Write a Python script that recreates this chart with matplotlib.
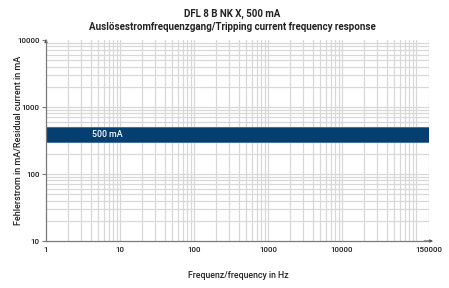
import matplotlib
matplotlib.use("Agg")
import matplotlib.pyplot as plt
import numpy as np

# Data
band_low = 300      # mA
band_high = 500     # mA
band_label = "500 mA"
x_min, x_max = 1, 150000
y_min, y_max = 10, 10000
x_ticks = [1, 10, 100, 1000, 10000, 150000]
x_ticklabels = ["1", "10", "100", "1000", "10000", "150000"]
y_ticks = [10, 100, 1000, 10000]
y_ticklabels = ["10", "100", "1000", "10000"]
title1 = "DFL 8 B NK X, 500 mA"
title2 = "Auslösestromfrequenzgang/Tripping current frequency response"
xlabel = "Frequenz/frequency in Hz"
ylabel = "Fehlerstrom in mA/Residual current in mA"

plt.rcParams['font.family'] = ['Roboto', 'DejaVu Sans']

fig = plt.figure(figsize=(4.49, 2.88), dpi=100)
ax = fig.add_axes([46/449, 1-241/288, (429-46)/449, (241-40)/288])
ax.set_xscale('log')
ax.set_yscale('log')
ax.set_xlim(x_min, x_max)
ax.set_ylim(y_min, y_max)

grid_c = '#d8d8d8'
for dec in range(0, 6):
    for m in range(1, 10):
        v = m * 10**dec
        if x_min < v < x_max:
            ax.axvline(v, color=grid_c, lw=0.9, zorder=0)
ax.axvline(x_max, color=grid_c, lw=0.9, zorder=0)
for dec in range(1, 4):
    for m in range(1, 10):
        v = m * 10**dec
        if y_min < v <= y_max:
            ax.axhline(v, color=grid_c, lw=0.9, zorder=0)

ax.axhspan(band_low, band_high, facecolor='#053f70', edgecolor='#3a6d9c', lw=0.6, zorder=2)
ax.text(4.2, np.sqrt(band_low*band_high), band_label, color='white', fontsize=6.3,
        fontweight='medium', va='center', ha='left', zorder=3)

for s in ['top', 'right']:
    ax.spines[s].set_visible(False)
for s in ['left', 'bottom']:
    ax.spines[s].set_color('#7a7a7a')
    ax.spines[s].set_linewidth(0.9)
    ax.spines[s].set_zorder(4)

ax.set_xticks(x_ticks)
ax.set_xticklabels(x_ticklabels, fontweight='medium')
ax.set_yticks(y_ticks)
ax.set_yticklabels(y_ticklabels, fontweight='medium')
ax.minorticks_off()
ax.tick_params(axis='x', length=0, pad=4, labelsize=5.8, labelcolor='#222222')
ax.tick_params(axis='y', length=3, width=0.8, color='#7a7a7a', pad=1.5, labelsize=5.8, labelcolor='#222222')

ax.annotate('', xy=(0, 1.018), xytext=(0, 0.98), xycoords='axes fraction',
            arrowprops=dict(arrowstyle='-|>', color='#555555', lw=0.8, mutation_scale=4))
ax.annotate('', xy=(1.018, 0), xytext=(0.98, 0), xycoords='axes fraction',
            arrowprops=dict(arrowstyle='-|>', color='#555555', lw=0.8, mutation_scale=4))

fig.text(232/449, 1-14/288, title1, ha='center', va='center', fontsize=7, fontweight='bold', color='#222222')
fig.text(232/449, 1-27/288, title2, ha='center', va='center', fontsize=7, fontweight='bold', color='#222222')
fig.text(238/449, 1-275/288, xlabel, ha='center', va='center', fontsize=6.3, fontweight='medium', color='#222222')
fig.text(19/449, 1-140/288, ylabel, ha='center', va='center', rotation=90, fontsize=6.5, fontweight='medium', color='#222222')

fig.savefig('out.png', dpi=100)
